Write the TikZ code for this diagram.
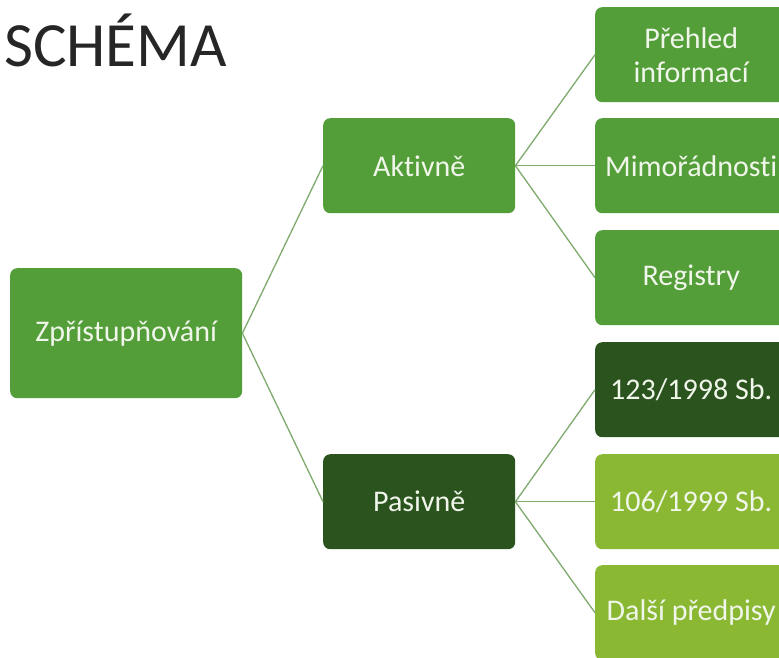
\documentclass[tikz,border=0pt]{standalone}
\usepackage{fontspec}
\setmainfont[Ligatures={NoCommon}]{Carlito}
\definecolor{gmid}{HTML}{549E39}
\definecolor{gdark}{HTML}{2B531E}
\definecolor{glight}{HTML}{8AB833}
\definecolor{gline}{HTML}{7FAA6E}
\definecolor{gtext}{HTML}{F0F6EA}
\begin{document}
\begin{tikzpicture}[x=1pt,y=-1pt,
  boxbase/.style={rounded corners=7pt,inner sep=0pt,align=center,text=gtext,font=\fontsize{30}{34}\selectfont,anchor=north west},
  midbox/.style={boxbase,fill=gmid},
  darkbox/.style={boxbase,fill=gdark},
  lightbox/.style={boxbase,fill=glight},
  conn/.style={draw=gline,line width=1.3pt}]
\useasboundingbox (0,0) rectangle (779,657);
\clip (0,0) rectangle (779,657);
\fill[white] (0,0) rectangle (779,657);
\node[anchor=west,font=\fontsize{63}{66}\selectfont,text=black!85,inner sep=0pt] (title) at (4,40) {SCHÉMA};
\node[midbox,minimum width=232pt,minimum height=130pt] (root) at (10,268) {Zpřístupňování};
\node[midbox,minimum width=192pt,minimum height=95pt] (akt) at (323,118) {Aktivně};
\node[darkbox,minimum width=192pt,minimum height=95pt] (pas) at (323,454) {Pasivně};
\node[midbox,minimum width=192pt,minimum height=95pt] (a1) at (595,7) {Přehled\\informací};
\node[midbox,minimum width=192pt,minimum height=95pt] (a2) at (595,118) {Mimořádnosti};
\node[midbox,minimum width=192pt,minimum height=95pt] (a3) at (595,230) {Registry};
\node[darkbox,minimum width=192pt,minimum height=95pt] (p1) at (595,342) {123/1998 Sb.};
\node[lightbox,minimum width=192pt,minimum height=95pt] (p2) at (595,454) {106/1999 Sb.};
\node[lightbox,minimum width=192pt,minimum height=95pt] (p3) at (595,565) {Další předpisy};
\draw[conn] (root.east) -- (akt.west);
\draw[conn] (root.east) -- (pas.west);
\draw[conn] (akt.east) -- (a1.west);
\draw[conn] (akt.east) -- (a2.west);
\draw[conn] (akt.east) -- (a3.west);
\draw[conn] (pas.east) -- (p1.west);
\draw[conn] (pas.east) -- (p2.west);
\draw[conn] (pas.east) -- (p3.west);
\end{tikzpicture}
\end{document}
